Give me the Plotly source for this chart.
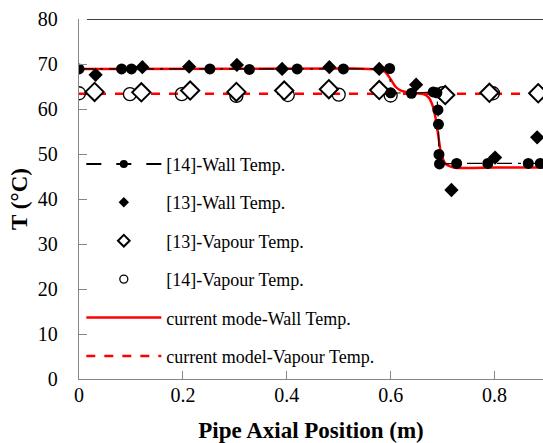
import plotly.graph_objects as go

# ---------------- data ----------------
wall14_x = [0.0, 0.082, 0.101, 0.252, 0.328, 0.420, 0.509, 0.598, 0.600, 0.640,
            0.682, 0.689, 0.691, 0.692, 0.693, 0.694, 0.727, 0.787, 0.865, 0.888]
wall14_y = [68.9, 68.9, 68.9, 68.9, 68.8, 68.9, 68.9, 69.0, 63.6, 63.5,
            63.8, 63.6, 59.8, 56.6, 49.9, 47.8, 47.9, 47.9, 47.9, 47.9]

wall13_x = [0.032, 0.122, 0.212, 0.304, 0.391, 0.482, 0.578, 0.649, 0.717, 0.801, 0.882]
wall13_y = [67.6, 69.3, 69.4, 69.8, 68.9, 69.3, 68.9, 65.4, 42.0, 49.2, 53.7]

vap13_x = [0.030, 0.120, 0.214, 0.303, 0.395, 0.481, 0.578, 0.705, 0.790, 0.884]
vap13_y = [63.8, 63.7, 64.1, 63.8, 64.1, 64.4, 64.2, 63.1, 63.6, 63.5]

vap14_x = [0.0, 0.098, 0.198, 0.303, 0.402, 0.500, 0.600, 0.700, 0.797, 0.900]
vap14_y = [63.5, 63.3, 63.3, 62.9, 63.1, 63.2, 63.0, 63.5, 63.5, 63.5]

model_wall_x = [0.0, 0.522, 0.573, 0.589, 0.599, 0.609, 0.618, 0.637, 0.663, 0.673,
                0.679, 0.686, 0.692, 0.697, 0.705, 0.721, 0.80, 1.0]
model_wall_y = [68.9, 69.0, 68.8, 68.3, 66.8, 65.0, 64.2, 63.6, 63.3, 62.6,
                61.3, 58.3, 53.8, 50.2, 47.9, 47.0, 47.0, 47.0]

model_vap_x = [0.0, 1.0]
model_vap_y = [63.4, 63.4]

names = ["[14]-Wall Temp.", "[13]-Wall Temp.", "[13]-Vapour Temp.",
         "[14]-Vapour Temp.", "current mode-Wall Temp.", "current model-Vapour Temp."]

x_ticks = [0, 0.2, 0.4, 0.6, 0.8]
x_ticklabels = ["0", "0.2", "0.4", "0.6", "0.8"]
y_ticks = [0, 10, 20, 30, 40, 50, 60, 70, 80]

FONT = "Liberation Serif, Times New Roman, serif"
RED = "#FF0000"

fig = go.Figure()

# model curves (drawn first, beneath markers)
fig.add_trace(go.Scatter(x=model_vap_x, y=model_vap_y, mode="lines",
                         line=dict(color=RED, width=2.5, dash="dash"),
                         showlegend=False, hoverinfo="skip"))
fig.add_trace(go.Scatter(x=model_wall_x, y=model_wall_y, mode="lines",
                         line=dict(color=RED, width=2.5, shape="spline", smoothing=0.6),
                         showlegend=False, hoverinfo="skip"))

# experimental data
fig.add_trace(go.Scatter(x=vap14_x, y=vap14_y, mode="markers",
                         marker=dict(symbol="circle-open", size=13, color="black",
                                     line=dict(width=1.3, color="black")),
                         showlegend=False))
fig.add_trace(go.Scatter(x=vap13_x, y=vap13_y, mode="markers",
                         marker=dict(symbol="diamond", size=14, color="white",
                                     line=dict(width=2, color="black")),
                         showlegend=False))
fig.add_trace(go.Scatter(x=wall14_x, y=wall14_y, mode="lines+markers",
                         line=dict(color="black", width=1.2, dash="longdashdot"),
                         marker=dict(symbol="circle", size=11, color="black"),
                         showlegend=False))
fig.add_trace(go.Scatter(x=wall13_x, y=wall13_y, mode="markers",
                         marker=dict(symbol="diamond", size=11, color="black"),
                         showlegend=False))

# legend entries
legend_styles = [
    dict(mode="lines+markers", line=dict(color="black", width=2, dash="longdash"),
         marker=dict(symbol="circle", size=8, color="black")),
    dict(mode="markers", marker=dict(symbol="diamond", size=8, color="black")),
    dict(mode="markers", marker=dict(symbol="diamond", size=9, color="white",
                                     line=dict(width=2, color="black"))),
    dict(mode="markers", marker=dict(symbol="circle-open", size=8, color="black",
                                     line=dict(width=1.3, color="black"))),
    dict(mode="lines", line=dict(color=RED, width=2.5)),
    dict(mode="lines", line=dict(color=RED, width=2.5, dash="dash")),
]
for i, (nm, st) in enumerate(zip(names, legend_styles)):
    fig.add_trace(go.Scatter(x=[None], y=[None], name=nm, legendgroup=f"g{i}",
                             legendrank=i + 1, showlegend=True, **st))

fig.update_layout(
    width=543, height=443,
    margin=dict(l=78.5, r=0, t=19, b=64),
    paper_bgcolor="white", plot_bgcolor="white",
    font=dict(family=FONT, color="black", size=20),
    showlegend=True,
    legend=dict(x=0.005, y=0.648, xanchor="left", yanchor="top",
                bgcolor="rgba(0,0,0,0)", font=dict(family=FONT, size=18),
                traceorder="grouped", tracegroupgap=12, itemwidth=75),
    xaxis=dict(range=[0, (543 - 78.5) / 520], tickvals=x_ticks, ticktext=x_ticklabels,
               ticks="inside", ticklen=8, tickcolor="#868686",
               showline=True, linecolor="#868686", linewidth=1.3,
               showgrid=False, zeroline=False, ticklabelstandoff=-2,
               tickfont=dict(size=20), automargin=False,
               title=dict(text="<b>Pipe Axial Position (m)</b>", standoff=17,
                          font=dict(size=23))),
    yaxis=dict(range=[0, 80], tickvals=y_ticks, ticks="inside", ticklen=8,
               tickcolor="#868686", showline=True, linecolor="#868686", linewidth=1.3,
               showgrid=False, zeroline=False, ticklabelstandoff=16,
               tickfont=dict(size=20), automargin=False,
               title=dict(text="<b>T (°C)</b>", standoff=3, font=dict(size=23))),
    shapes=[dict(type="line", xref="paper", yref="y", x0=0.017, x1=1, y0=80, y1=80,
                 line=dict(color="black", width=1.3))],
)

fig.write_html("out.html")
